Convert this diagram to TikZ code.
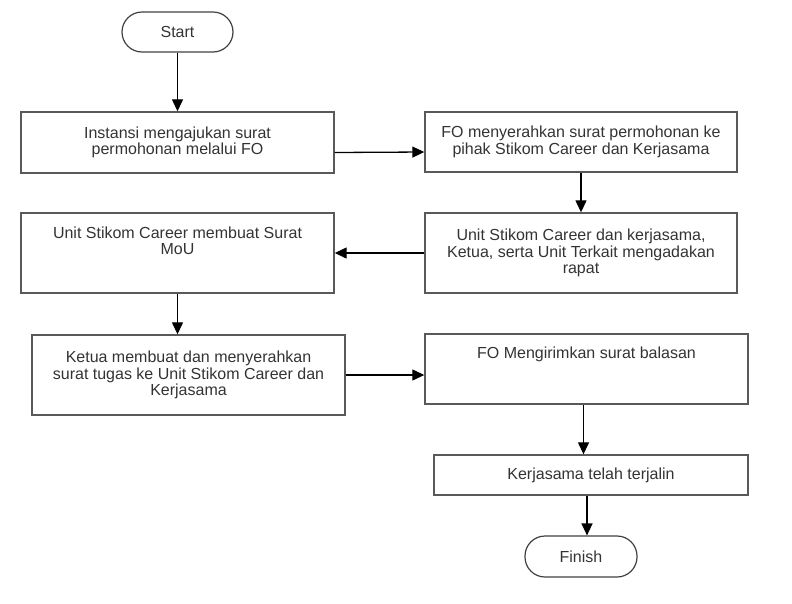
\documentclass[tikz,border=0pt]{standalone}
\usepackage{fontspec}
\setmainfont{Liberation Sans}
\usetikzlibrary{arrows.meta}
\usetikzlibrary{positioning}

\begin{document}
\begin{tikzpicture}
[x=1pt,y=-1pt,%
  every node/.style={font=\fontsize{16}{16.5}\selectfont,text=black!80,align=center},%
  proc/.style={draw=black!65,line width=1.4pt,rectangle,inner sep=0pt},%
  term/.style={draw=black!75,line width=1.2pt,rectangle,rounded corners=20pt,inner sep=0pt},%
  flow/.style={draw=black,line width=1.3pt,-{Triangle[length=12pt,width=11pt]}}]
\useasboundingbox (0,0) rectangle (792,603);
\node[term,minimum width=111pt,minimum height=40pt] (start) at (177.5,32) {Start};
\node[proc,minimum width=313pt,minimum height=61pt] (ajukan) at (177.5,142.5)
  {Instansi mengajukan surat\\permohonan melalui FO};
\node[proc,minimum width=312pt,minimum height=60pt] (serah) at (581,142)
  {FO menyerahkan surat permohonan ke\\pihak Stikom Career dan Kerjasama};
\node[proc,minimum width=312pt,minimum height=80pt] (rapat) at (581,253)
  {Unit Stikom Career dan kerjasama,\\Ketua, serta Unit Terkait mengadakan\\rapat};
\node[proc,minimum width=313pt,minimum height=80pt] (mou) at (177.5,253) {};
\node[inner sep=0pt,below=14pt of mou.north] (moutext)
  {Unit Stikom Career membuat Surat\\MoU};
\node[proc,minimum width=313pt,minimum height=80pt] (tugas) at (188.5,375)
  {Ketua membuat dan menyerahkan\\surat tugas ke Unit Stikom Career dan\\Kerjasama};
\node[proc,minimum width=323pt,minimum height=70pt] (balas) at (586.5,369) {};
\node[inner sep=0pt,below=13pt of balas.north] (balastext)
  {FO Mengirimkan surat balasan};
\node[proc,minimum width=314pt,minimum height=40pt] (jalin) at (591,475)
  {Kerjasama telah terjalin};
\node[term,minimum width=112pt,minimum height=41pt] (finish) at (581,556.5) {Finish};
%% connectors
\draw[flow] (start) -- (ajukan);
\draw[flow] ([yshift=-10pt]ajukan.east) -- ([yshift=-10pt]serah.west);
\draw[flow] (serah) -- (rapat);
\draw[flow] (rapat) -- (mou);
\draw[flow] (mou.south) -- (mou.south |- tugas.north);
\draw[flow] (tugas.east) -- (tugas.east -| balas.west);
\draw[flow] ([xshift=-3pt]balas.south) -- ([xshift=-3pt]balas.south |- jalin.north);
\draw[flow] ([xshift=-4pt]jalin.south) -- ([xshift=-4pt]jalin.south |- finish.north);
\end{tikzpicture}
\end{document}
